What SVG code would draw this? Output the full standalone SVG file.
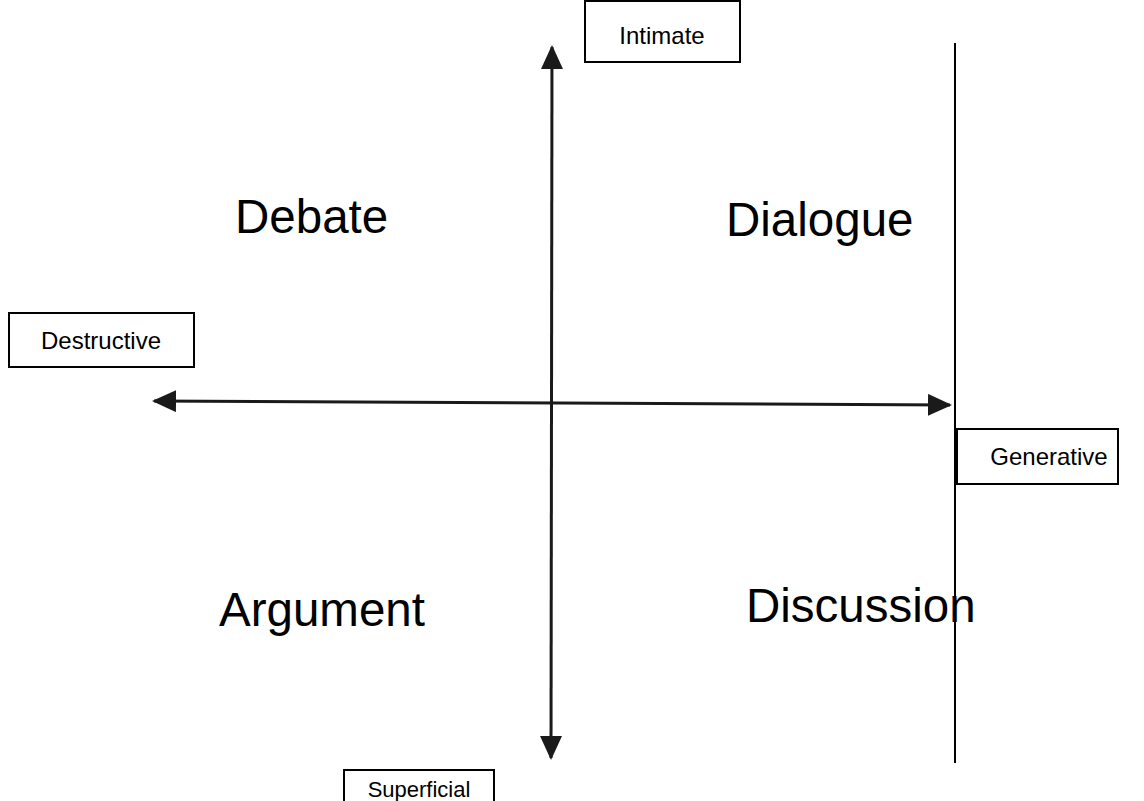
<svg xmlns="http://www.w3.org/2000/svg" width="1144" height="801" viewBox="0 0 1144 801">
  <style>
    .axis { stroke: #1a1a1a; stroke-width: 3; fill: none; }
    .rule { stroke: #000; stroke-width: 2; fill: none; }
    .box { fill: #fff; stroke: #000; stroke-width: 2; }
    .label { font-family: "Liberation Sans", Arial, sans-serif; font-size: 24px; fill: #000; text-anchor: middle; }
    .quad { font-family: "Liberation Sans", Arial, sans-serif; font-size: 47.5px; fill: #000; }
  </style>
  <defs>
    <marker id="head" viewBox="0 0 24 22" refX="22" refY="11" markerWidth="24" markerHeight="22" markerUnits="userSpaceOnUse" orient="auto-start-reverse">
      <path d="M0,0 L24,11 L0,22 Z" fill="#1a1a1a"/>
    </marker>
  </defs>
  <rect width="1144" height="801" fill="#fff"/>

  <!-- axes and the boundary rule -->
  <g id="connectors">
    <line class="axis" x1="552" y1="47" x2="551" y2="758" marker-start="url(#head)" marker-end="url(#head)"/>
    <line class="axis" x1="154" y1="401" x2="950" y2="405" marker-start="url(#head)" marker-end="url(#head)"/>
    <line class="rule" x1="955" y1="43" x2="955" y2="763"/>
  </g>

  <!-- axis end labels -->
  <g id="intimate">
    <rect class="box" x="585" y="1" width="155" height="61"/>
    <text class="label" x="662" y="44">Intimate</text>
  </g>
  <g id="destructive">
    <rect class="box" x="9" y="313" width="185" height="54"/>
    <text class="label" x="101" y="349">Destructive</text>
  </g>
  <g id="generative">
    <rect class="box" x="957" y="429" width="161" height="55"/>
    <text class="label" x="1049" y="465">Generative</text>
  </g>
  <g id="superficial">
    <rect class="box" x="344" y="770" width="150" height="40"/>
    <text class="label" x="419" y="797" style="font-size:22px">Superficial</text>
  </g>

  <!-- quadrant names -->
  <g id="debate"><text class="quad" x="235" y="233">Debate</text></g>
  <g id="dialogue"><text class="quad" x="726" y="236">Dialogue</text></g>
  <g id="argument"><text class="quad" x="219" y="626">Argument</text></g>
  <g id="discussion"><text class="quad" x="746" y="622">Discussion</text></g>
</svg>
